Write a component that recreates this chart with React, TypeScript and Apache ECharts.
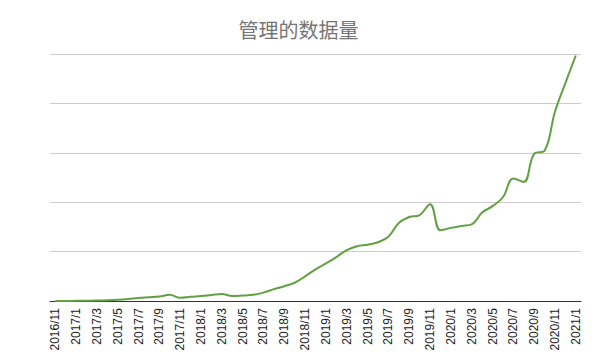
import React, { useEffect, useRef } from "react";
import * as echarts from "echarts";

const months: string[] = [];
const startYear = 2016;
const startMonth = 11;
for (let i = 0; i < 51; i++) {
  const m = startMonth - 1 + i;
  months.push(`${startYear + Math.floor(m / 12)}/${(m % 12) + 1}`);
}

const values: number[] = [
  0, 0, 0.3, 0.5, 0.8, 1.5, 2.5, 4, 6, 7.5,
  9, 12.5, 6.5, 8.5, 10, 12, 14, 10, 11, 12.5,
  17, 24, 30, 37, 50, 64, 76, 89, 103, 111,
  114, 119, 130, 158, 170, 174, 196, 143, 148, 152,
  155, 179, 192, 210, 248, 241, 298, 304, 383, 441,
  497,
];

const titleText = "管理的数据量";

export default function App() {
  const ref = useRef<HTMLDivElement>(null);
  useEffect(() => {
    if (!ref.current) return;
    const chart = echarts.init(ref.current, null, { renderer: "svg" });
    chart.setOption({
      animation: false,
      backgroundColor: "#ffffff",
      title: {
        text: titleText,
        left: "center",
        top: 14,
        textStyle: {
          fontSize: 20,
          fontWeight: "normal",
          color: "#757575",
          fontFamily: "'Noto Sans CJK SC', sans-serif",
        },
      },
      grid: {
        left: 50,
        right: 16,
        top: 54,
        bottom: 63,
        containLabel: false,
        outerBoundsMode: "none",
      },
      xAxis: {
        type: "category",
        data: months,
        boundaryGap: true,
        axisLine: { show: true, lineStyle: { color: "#333333", width: 1 } },
        axisTick: { show: false },
        axisLabel: {
          interval: 1,
          rotate: 90,
          margin: 7,
          fontSize: 12,
          color: "#222222",
          fontFamily: "'Liberation Sans', Arial, sans-serif",
        },
      },
      yAxis: {
        type: "value",
        min: 0,
        max: 500,
        interval: 100,
        axisLabel: { show: false },
        axisLine: { show: false },
        axisTick: { show: false },
        splitLine: { lineStyle: { color: "#cccccc", width: 1 } },
      },
      series: [
        {
          type: "line",
          data: values,
          smooth: 0.4,
          symbol: "none",
          lineStyle: { color: "#62a043", width: 2 },
        },
      ],
    });
    return () => chart.dispose();
  }, []);
  return (
    <div
      ref={ref}
      style={{ position: "absolute", left: 0, top: 0, width: 597, height: 364 }}
    />
  );
}
